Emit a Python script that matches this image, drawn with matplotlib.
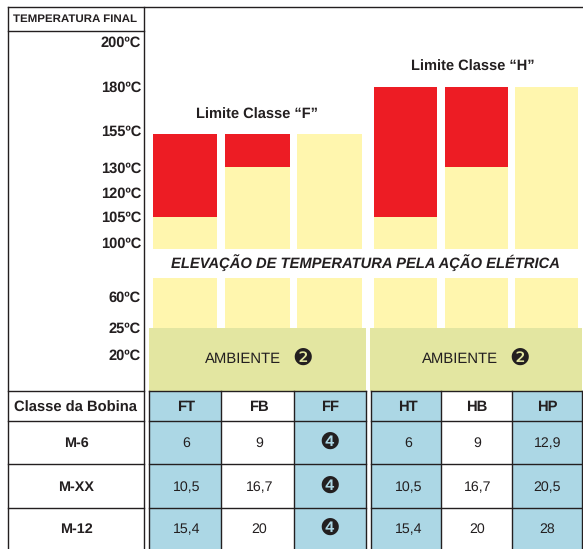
import matplotlib
matplotlib.use("Agg")
import matplotlib.pyplot as plt
import numpy as np

# --- data ---
groups = ["Limite Classe “F”", "Limite Classe “H”"]
classes = ["FT", "FB", "FF", "HT", "HB", "HP"]
limit_temp = [155, 155, 155, 180, 180, 180]
coil_temp = [105, 130, 155, 105, 130, 180]
band_low = [25, 60]
temp_labels = ["200ºC", "180ºC", "155ºC", "130ºC", "120ºC", "105ºC", "100ºC", "60ºC", "25ºC", "20ºC"]
rows = ["M-6", "M-XX", "M-12"]
col_ft = ["6", "10,5", "15,4"]
col_fb = ["9", "16,7", "20"]
col_ff = ["❹", "❹", "❹"]
col_ht = ["6", "10,5", "15,4"]
col_hb = ["9", "16,7", "20"]
col_hp = ["12,9", "20,5", "28"]

# --- styles ---
DARK = "#231f20"
RED = "#ed1c24"
YELLOW = "#fff6ae"
GREEN = "#e3e6a1"
BLUE = "#acd7e5"
plt.rcParams["font.family"] = ["Liberation Sans", "DejaVu Sans"]
plt.rcParams["text.color"] = DARK
plt.rcParams["text.hinting"] = "no_hinting"

W, H = 583, 549
fig = plt.figure(figsize=(W / 100, H / 100), dpi=100)

# the temperature axis of the original is not linear, so map it through knots
knot_t = [0, 25, 60, 100, 105, 130, 155, 180, 210]
knot_px = [0, 221.3, 271, 300, 331.7, 382.3, 414.7, 461.7, 549]
def forward(t):
    return np.interp(t, knot_t, knot_px)
def inverse(p):
    return np.interp(p, knot_px, knot_t)

bar_ax = fig.add_axes([0, 0, 1, 1])
bar_ax.set_xlim(0, W)
bar_ax.set_yscale("function", functions=(forward, inverse))
bar_ax.set_ylim(0, 210)
bar_ax.axis("off")

bar_left = [153, 225, 297, 374, 444.7, 515]
bar_right = [217.3, 289.7, 361.7, 437, 507.7, 578]
for l, r, lim, coil in zip(bar_left, bar_right, limit_temp, coil_temp):
    c = (l + r) / 2
    w = r - l
    bar_ax.bar(c, coil - 100, bottom=100, width=w, color=YELLOW, linewidth=0)
    if lim > coil:
        bar_ax.bar(c, lim - coil, bottom=coil, width=w, color=RED, linewidth=0)
    bar_ax.bar(c, band_low[1] - band_low[0], bottom=band_low[0], width=w, color=YELLOW, linewidth=0)

# everything else sits on a pixel grid, y going down like the picture
ax = fig.add_axes([0, 0, 1, 1])
ax.set_xlim(0, W)
ax.set_ylim(H, 0)
ax.axis("off")
ax.patch.set_alpha(0)

# ambient bands
ax.fill_between([149, 365.7], 327.7, 390.5, color=GREEN, linewidth=0)
ax.fill_between([370.3, 582], 327.7, 390.5, color=GREEN, linewidth=0)

# table
col_x = [149, 221, 293.5, 365.5, 370.5, 441, 511.5, 582]
row_y = [390.7, 420.7, 464, 507.7, 549]
for i in [0, 2, 4, 6]:
    ax.fill_between([col_x[i], col_x[i + 1]], row_y[0], row_y[-1], color=BLUE, linewidth=0)

LW = 1.0
ax.plot([8, 583], [7, 7], color=DARK, lw=LW)
ax.plot([8, 144], [30.5, 30.5], color=DARK, lw=LW)
ax.plot([8, 8], [7, 549], color=DARK, lw=LW)
ax.plot([144, 144], [7, 549], color=DARK, lw=LW)
for y in row_y[:-1]:
    ax.plot([8, 144], [y, y], color=DARK, lw=LW)
    ax.plot([149, 365.5], [y, y], color=DARK, lw=LW)
    ax.plot([370.5, 582], [y, y], color=DARK, lw=LW)
for x in col_x:
    ax.plot([x, x], [390.7, 549], color=DARK, lw=LW)

# left column text
ax.text(75.5, 19, "TEMPERATURA FINAL", ha="center", va="center", fontsize=8.25, fontweight="bold")
tick_y = [43, 88, 132, 169, 194, 218, 244, 298, 329, 356]
for y, s in zip(tick_y, temp_labels):
    ax.text(141, y, s, ha="right", va="center", fontsize=10.5, fontweight="bold")

ax.text(256.5, 114.5, groups[0], ha="center", va="center", fontsize=10.5, fontweight="bold")
ax.text(472.5, 66.5, groups[1], ha="center", va="center", fontsize=10.5, fontweight="bold")
ax.text(365, 263, "ELEVAÇÃO DE TEMPERATURA PELA AÇÃO ELÉTRICA", ha="center", va="center",
        fontsize=10.6, fontweight="bold", fontstyle="italic")

# ambient labels
for x_txt, x_num in zip([243, 459.5], [302.7, 519.3]):
    ax.text(x_txt, 359.5, "AMBIENTE", ha="center", va="center", fontsize=10.7)
    ax.text(x_num, 359, "❷", ha="center", va="center", fontsize=16.5, family="DejaVu Sans")

# table text
ax.text(75.5, 407.5, "Classe da Bobina", ha="center", va="center", fontsize=10.6, fontweight="bold")
col_center = [186, 259, 330, 408, 477, 547]
for x, s in zip(col_center, classes):
    ax.text(x, 407.5, s, ha="center", va="center", fontsize=10.6, fontweight="bold")

row_center = [443.5, 487.5, 529.5]
columns = [col_ft, col_fb, col_ff, col_ht, col_hb, col_hp]
for j, y in enumerate(row_center):
    ax.text(76, y, rows[j], ha="center", va="center", fontsize=10.4, fontweight="bold")
    for x, col in zip(col_center, columns):
        if col[j] == "❹":
            ax.text(x, y, col[j], ha="center", va="center", fontsize=16.5, family="DejaVu Sans")
        else:
            ax.text(x + 0.4, y, col[j], ha="center", va="center", fontsize=10.2)

fig.savefig("out.png", dpi=100)
